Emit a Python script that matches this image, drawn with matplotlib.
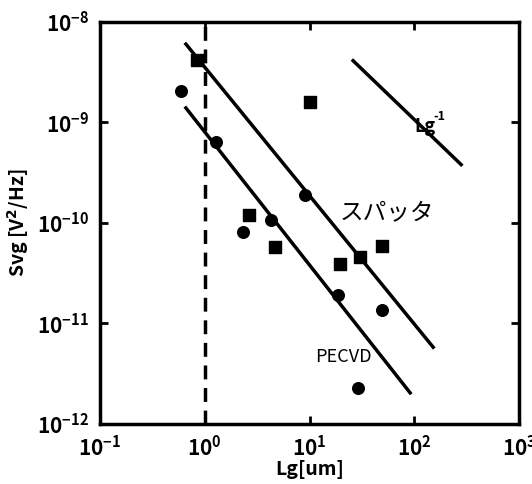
import matplotlib
matplotlib.use('Agg')
import matplotlib.pyplot as plt
from matplotlib.ticker import LogLocator, NullLocator

plt.rcParams['font.family'] = ['Noto Sans CJK JP', 'DejaVu Sans']
plt.rcParams['font.weight'] = 'bold'
plt.rcParams['mathtext.fontset'] = 'dejavusans'
plt.rcParams['mathtext.default'] = 'bf'

# sputtered (squares)
sq_x = [0.84, 10, 2.64, 4.7, 19.5, 30, 49]
sq_y = [4.2e-9, 1.6e-9, 1.2e-10, 5.8e-11, 3.9e-11, 4.6e-11, 5.9e-11]

# PECVD (circles)
ci_x = [0.59, 1.28, 2.3, 4.3, 9.1, 18.7, 49, 29]
ci_y = [2.06e-9, 6.4e-10, 8.1e-11, 1.07e-10, 1.9e-10, 1.9e-11, 1.35e-11, 2.3e-12]

# fitted lines
fit_upper_x = [0.66, 151]
fit_upper_y = [6.0e-9, 5.8e-12]
fit_lower_x = [0.66, 91]
fit_lower_y = [1.39e-9, 2.04e-12]
ref_x = [26, 279]
ref_y = [4.1e-9, 3.8e-10]

fig = plt.figure(figsize=(5.32, 4.84), dpi=100)
ax = fig.add_axes([0.188, 0.124, 0.788, 0.831])

ax.plot(fit_upper_x, fit_upper_y, color='black', lw=2.5)
ax.plot(fit_lower_x, fit_lower_y, color='black', lw=2.5)
ax.plot(ref_x, ref_y, color='black', lw=2.5)
ax.axvline(1.0, color='black', lw=2.5, ls=(0, (4, 2.5)))
ax.scatter(sq_x, sq_y, marker='s', s=70, color='black', zorder=3)
ax.scatter(ci_x, ci_y, marker='o', s=70, color='black', zorder=3)

ax.set_xscale('log')
ax.set_yscale('log')
ax.set_xlim(0.1, 1000)
ax.set_ylim(1e-12, 1e-8)
ax.xaxis.set_major_locator(LogLocator(base=10, numticks=10))
ax.yaxis.set_major_locator(LogLocator(base=10, numticks=10))
ax.xaxis.set_minor_locator(NullLocator())
ax.yaxis.set_minor_locator(NullLocator())
ax.tick_params(which='major', direction='in', length=6, width=2,
               top=True, right=True, labelsize=15, pad=8)
for s in ax.spines.values():
    s.set_linewidth(2.5)

ax.text(100, 9e-10, 'Lg', fontsize=13, fontweight='bold', va='center', ha='left')
ax.text(150, 1.15e-9, '-1', fontsize=9, fontweight='bold', va='center', ha='left')
ax.text(55, 1.26e-10, 'スパッタ', fontsize=17, fontweight='normal', va='center', ha='center')
ax.text(21, 4.6e-12, 'PECVD', fontsize=13, fontweight='normal', va='center', ha='center')

ax.set_xlabel('Lg[um]', fontsize=14, fontweight='bold', labelpad=0)
ax.set_ylabel('Svg [V$^2$/Hz]', fontsize=14, fontweight='bold', labelpad=4)

fig.savefig('out.png', dpi=100)
